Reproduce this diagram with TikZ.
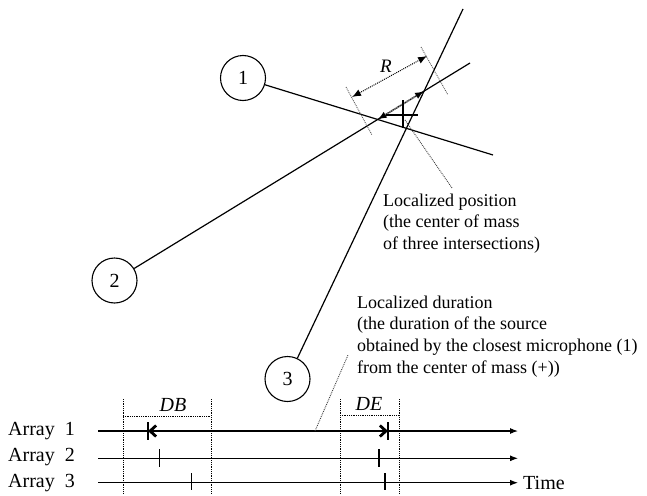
\documentclass[tikz,border=0pt]{standalone}
\usepackage{fontspec}
\setmainfont{Liberation Serif}
\usetikzlibrary{arrows.meta,calc,intersections}
\begin{document}
\begin{tikzpicture}[x=1pt,y=-1pt,
  mic/.style={draw,circle,minimum size=45pt,inner sep=0pt,line width=1.1pt,font=\fontsize{20}{24}\selectfont},
  ray/.style={line width=1.2pt},
  dimline/.style={line width=1pt,densely dotted,{Latex[length=9pt,width=7pt]}-{Latex[length=9pt,width=7pt]}},
  extline/.style={line width=0.9pt,densely dotted,gray!70!black},
  segarrow/.style={line width=1.8pt,densely dotted,gray,{Latex[length=9pt,width=7pt,color=black]}-{Latex[length=9pt,width=7pt,color=black]}},
  leader/.style={line width=0.9pt,densely dotted,gray!50!black},
  note/.style={align=left,inner sep=0pt,font=\fontsize{18}{21.8}\selectfont},
  tline/.style={line width=1.1pt,-{Latex[length=8pt,width=6pt]}},
  tickln/.style={line width=1.1pt},
  bound/.style={line width=0.8pt,densely dotted},
  arr/.style={font=\fontsize{20}{24}\selectfont,inner sep=0pt},
  itl/.style={font=\itshape\fontsize{20}{24}\selectfont,inner sep=0pt},
  durarrow/.style={line width=2.8pt,{Straight Barb[length=6pt,width=11pt]}-{Straight Barb[length=6pt,width=11pt]}},
]
\useasboundingbox (0,0) rectangle (647,495);
% microphone arrays
\node[mic] (c1) at (243,78) {1};
\node[mic] (c2) at (114.5,280.5) {2};
\node[mic] (c3) at (287.5,379) {3};
\coordinate (e1) at (493,155);
\coordinate (e2) at (470,63);
\coordinate (e3) at (463,9);
\draw[ray,name path=r1] (c1) -- (e1);
\draw[ray,name path=r2] (c2) -- (e2);
\draw[ray,name path=r3] (c3) -- (e3);
\path[name intersections={of=r1 and r2,by=p12}];
\path[name intersections={of=r2 and r3,by=p23}];
\path[name intersections={of=r1 and r3,by=p13}];
% segment between intersections
\draw[segarrow] (p12) -- (p23);
% center of mass cross
\coordinate (cm) at (403,115);
\draw[line width=1.1pt] ($(cm)+(-17,0)$) -- ($(cm)+(15,0)$);
\draw[line width=1.1pt] ($(cm)+(0,-15)$) -- ($(cm)+(0,13)$);
% R dimension
\coordinate (xa1) at (346,87);
\coordinate (xa2) at (372,135);
\coordinate (xb1) at (421,47);
\coordinate (xb2) at (448,95);
\draw[extline] (xa1) -- (xa2);
\draw[extline] (xb1) -- (xb2);
\coordinate (ra) at (352,97);
\coordinate (rb) at (427,56);
\draw[dimline] (ra) -- (rb);
\node[font=\itshape\fontsize{19}{20}\selectfont,inner sep=0pt,anchor=base] (R) at (386,72.5) {R};
% localized position
\node[note,anchor=north west] (pos) at (383,193.5) {Localized position\\(the center of mass\\of three intersections)};
\coordinate (lp1) at (405,120);
\coordinate (lp2) at (452,188);
\draw[leader] (lp1) -- (lp2);
% localized duration
\node[note,anchor=north west] (dur) at (357,295.5) {Localized duration\\(the duration of the source\\obtained by the closest microphone (1)\\from the center of mass (+))};
% time lines
\node[arr,anchor=base east] (a1) at (75,435) {Array~ 1};
\node[arr,anchor=base east] (a2) at (75,461.5) {Array~ 2};
\node[arr,anchor=base east] (a3) at (75,487.5) {Array~ 3};
\node[arr,anchor=base west] (time) at (523,489) {Time};
\coordinate (l1s) at (98,431);   \coordinate (l1e) at (518,431);
\coordinate (l2s) at (98,458.3); \coordinate (l2e) at (518,458.3);
\coordinate (l3s) at (98,482.7); \coordinate (l3e) at (518,482.7);
\draw[tline] (l1s) -- (l1e);
\draw[tline] (l2s) -- (l2e);
\draw[tline] (l3s) -- (l3e);
% bounds DB / DE
\draw[bound] (123,399) -- (123,493);
\draw[bound] (211,399) -- (211,493);
\draw[bound] (340,399) -- (340,493);
\draw[bound] (399.3,399) -- (399.3,493);
\draw[bound] (123,416) -- (211,416);
\draw[bound] (340,415) -- (399.3,415);
\node[itl,anchor=base] (db) at (173,411.5) {DB};
\node[itl,anchor=base] (de) at (369,410) {DE};
% ticks
\draw[tickln] (148,422) -- (148,440);
\draw[tickln] (388,422) -- (388,440);
\draw[tickln] (159.3,449) -- (159.3,467);
\draw[tickln] (379,449) -- (379,467);
\draw[tickln] (191.7,473) -- (191.7,490);
\draw[tickln] (385,473) -- (385,490);
% localized duration arrow
\coordinate (s1) at (148,431);
\coordinate (f1) at (388,431);
\draw[durarrow] (s1) -- (f1);
\coordinate (ld1) at (315,431);
\coordinate (ld2) at (348,355);
\draw[leader] (ld1) -- (ld2);
\end{tikzpicture}
\end{document}
